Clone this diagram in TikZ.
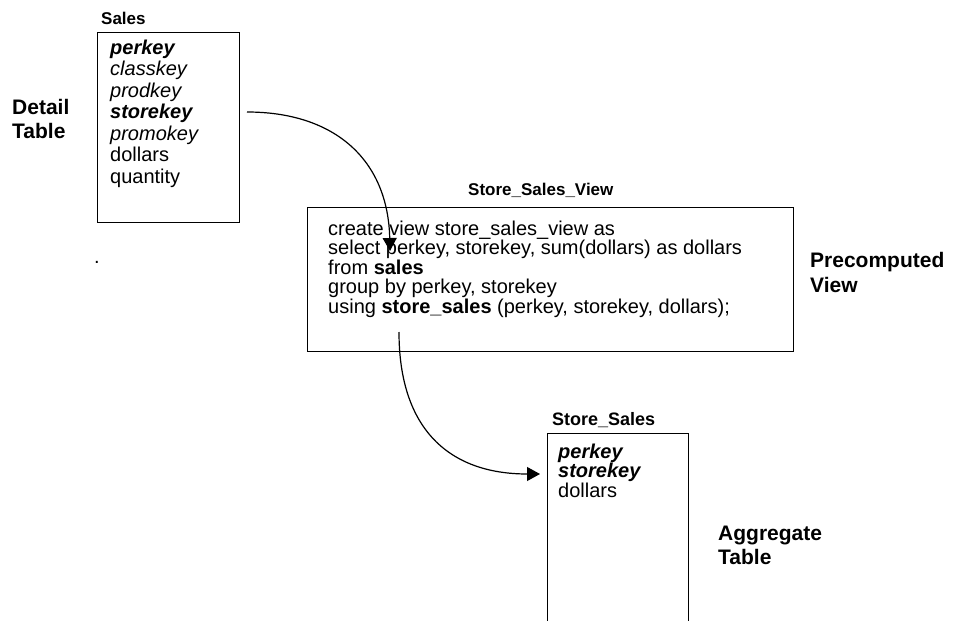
\documentclass[tikz,border=0pt]{standalone}
\usepackage{fontspec}
\setmainfont{Liberation Sans}
\usetikzlibrary{arrows.meta}
\begin{document}
\begin{tikzpicture}[x=1pt,y=-1pt,
  tablebox/.style={draw,line width=1.4pt,rectangle,inner sep=0pt,anchor=north west},
  title/.style={anchor=base west,inner sep=0pt,font=\fontsize{17}{20}\selectfont\bfseries},
  side/.style={anchor=base west,inner sep=0pt,align=left,font=\fontsize{21}{24}\selectfont\bfseries},
  field/.style={anchor=base west,inner sep=0pt,font=\fontsize{20}{22}\selectfont},
  keyfield/.style={field,font=\fontsize{20}{22}\selectfont\bfseries\itshape},
  attrfield/.style={field,font=\fontsize{20}{22}\selectfont\itshape},
  sql/.style={anchor=base west,inner sep=0pt,font=\fontsize{20}{22}\selectfont},
  conn/.style={line width=1.2pt,-{Triangle[length=13pt,width=14pt]}}]
\useasboundingbox (0,0) rectangle (954,621);

% detail table
\node[title] (salesT) at (101,24) {Sales};
\node[tablebox,minimum width=142pt,minimum height=190pt] (sales) at (97,32) {};
\node[keyfield]  (f1) at (110,54)  {perkey};
\node[attrfield] (f2) at (110,75)  {classkey};
\node[attrfield] (f3) at (110,97)  {prodkey};
\node[keyfield]  (f4) at (110,118) {storekey};
\node[attrfield] (f5) at (110,140) {promokey};
\node[field]     (f6) at (110,161) {dollars};
\node[field]     (f7) at (110,183) {quantity};
\node[side] (detailA) at (12,114) {Detail};
\node[side] (detailB) at (12,138) {Table};
\node[field,anchor=base] (dot) at (97,263) {.};

% precomputed view
\node[title] (viewT) at (468,195) {Store\_Sales\_View};
\node[tablebox,minimum width=486pt,minimum height=144pt] (view) at (307,207) {};
\node[sql] (s1) at (328,235) {create view store\_sales\_view as};
\node[sql] (s2) at (328,254.5) {select perkey, storekey, sum(dollars) as dollars};
\node[sql] (s3) at (328,274) {from \textbf{sales}};
\node[sql] (s4) at (328,293.5) {group by perkey, storekey};
\node[sql] (s5) at (328,313) {using \textbf{store\_sales} (perkey, storekey, dollars);};
\node[side] (preA) at (810,267) {Precomputed};
\node[side] (preB) at (810,292) {View};

% aggregate table (runs past the lower edge)
\node[title,font=\fontsize{18}{20}\selectfont\bfseries] (aggT) at (552,425) {Store\_Sales};
\node[tablebox,minimum width=141pt,minimum height=220pt] (agg) at (547,433) {};
\node[keyfield] (g1) at (558,458) {perkey};
\node[keyfield] (g2) at (558,477) {storekey};
\node[field]    (g3) at (558,497) {dollars};
\node[side] (aggA) at (718,540) {Aggregate};
\node[side] (aggB) at (718,564) {Table};

% connectors
\coordinate (a1s) at (247,112);
\coordinate (a1e) at (390,251);
\coordinate (a2s) at (399,332);
\coordinate (a2e) at (540,474);
\draw[conn] (a1s) .. controls (335,112) and (388,160) .. (a1e);
\draw[conn] (a2s) .. controls (399,430) and (450,474) .. (a2e);
\end{tikzpicture}
\end{document}
